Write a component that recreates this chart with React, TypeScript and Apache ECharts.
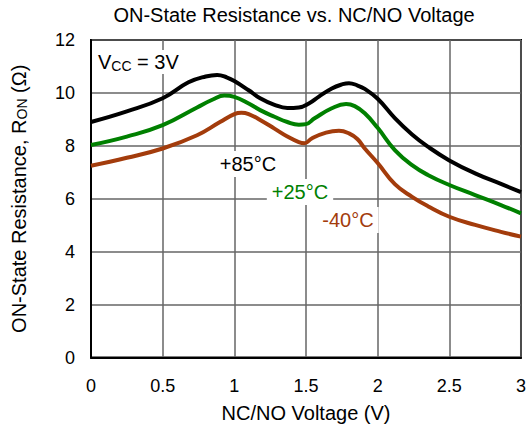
import React, { useEffect, useRef } from "react";
import * as echarts from "echarts";

const xTicks = [0, 0.5, 1, 1.5, 2, 2.5, 3];
const yTicks = [0, 2, 4, 6, 8, 10, 12];

const v85 = [0, 0.25, 0.5, 0.68, 0.8, 0.88, 0.95, 1.0, 1.1, 1.18, 1.28, 1.37, 1.45, 1.52, 1.59, 1.68, 1.75, 1.8, 1.86, 1.91, 2.0, 2.12, 2.24, 2.35, 2.5, 2.68, 2.86, 3.0];
const r85 = [8.9, 9.3, 9.8, 10.4, 10.62, 10.68, 10.58, 10.45, 10.1, 9.8, 9.55, 9.43, 9.45, 9.6, 9.86, 10.17, 10.32, 10.37, 10.28, 10.15, 9.78, 9.05, 8.43, 7.97, 7.45, 6.96, 6.56, 6.25];

const v25 = [0, 0.25, 0.5, 0.74, 0.85, 0.93, 1.0, 1.1, 1.18, 1.28, 1.37, 1.45, 1.5, 1.56, 1.68, 1.78, 1.84, 1.91, 2.0, 2.12, 2.24, 2.35, 2.5, 2.68, 2.86, 3.0];
const r25 = [8.03, 8.35, 8.78, 9.45, 9.75, 9.9, 9.85, 9.6, 9.35, 9.1, 8.9, 8.8, 8.82, 9.04, 9.42, 9.58, 9.5, 9.23, 8.68, 7.84, 7.27, 6.9, 6.52, 6.14, 5.76, 5.45];

const vm40 = [0, 0.25, 0.5, 0.74, 0.9, 1.0, 1.05, 1.1, 1.18, 1.28, 1.37, 1.45, 1.49, 1.54, 1.64, 1.73, 1.8, 1.86, 1.91, 2.0, 2.12, 2.24, 2.35, 2.5, 2.68, 2.86, 3.0];
const rm40 = [7.25, 7.55, 7.9, 8.4, 8.9, 9.2, 9.25, 9.2, 8.98, 8.65, 8.35, 8.14, 8.1, 8.28, 8.5, 8.57, 8.47, 8.25, 7.9, 7.35, 6.55, 6.07, 5.72, 5.32, 5.01, 4.75, 4.57];

const seriesNames = ["+85°C", "+25°C", "-40°C"];
const seriesColors = ["#000000", "#008000", "#a33c0c"];

const FONT = "Liberation Sans, Arial, sans-serif";

export default function App() {
  const ref = useRef<HTMLDivElement>(null);
  useEffect(() => {
    document.body.style.margin = "0";
    const chart = echarts.init(ref.current!, null, { renderer: "svg" });
    const pairs = (xs: number[], ys: number[]) => xs.map((x, i) => [x, ys[i]]);
    const datas = [pairs(v85, r85), pairs(v25, r25), pairs(vm40, rm40)];
    const labelPos = [
      [248, 164],
      [300, 192],
      [348, 220],
    ];
    chart.setOption({
      animation: false,
      textStyle: { fontFamily: FONT },
      title: {
        text: "ON-State Resistance vs. NC/NO Voltage",
        left: 289,
        textAlign: "center",
        top: 0,
        textStyle: { fontFamily: FONT, fontSize: 20, fontWeight: "normal", color: "#000" },
      },
      grid: {
        left: 91,
        right: 6,
        top: 40,
        bottom: 76.5,
        show: true,
        borderColor: "#000",
        borderWidth: 2,
        backgroundColor: "transparent",
      },
      xAxis: {
        type: "value",
        min: 0,
        max: 3,
        interval: 0.5,
        name: "NC/NO Voltage (V)",
        nameLocation: "middle",
        nameGap: 45,
        nameTextStyle: { fontFamily: FONT, fontSize: 20, color: "#000" },
        axisLine: { show: true, lineStyle: { color: "#000", width: 2 } },
        axisTick: { show: false },
        axisLabel: {
          fontFamily: FONT,
          fontSize: 18,
          color: "#000",
          margin: 19,
          formatter: (v: number) => (xTicks.includes(v) ? String(v) : ""),
        },
        splitLine: { show: true, lineStyle: { color: "#666", width: 1.5 } },
      },
      yAxis: {
        type: "value",
        min: 0,
        max: 12,
        interval: 2,
        name: "ON-State Resistance, R{sub|ON} (Ω)",
        nameLocation: "middle",
        nameGap: 62,
        nameRotate: 90,
        nameTextStyle: {
          fontFamily: FONT,
          fontSize: 20,
          color: "#000",
          rich: {
            sub: { fontFamily: FONT, fontSize: 14, color: "#000", verticalAlign: "bottom", padding: [7, 0, 0, 0] },
          },
        },
        axisLine: { show: true, lineStyle: { color: "#000", width: 2 } },
        axisTick: { show: false },
        axisLabel: {
          fontFamily: FONT,
          fontSize: 18,
          color: "#000",
          margin: 16,
          formatter: (v: number) => (yTicks.includes(v) ? String(v) : ""),
        },
        splitLine: { show: true, lineStyle: { color: "#666", width: 1.5 } },
      },
      graphic: [
        {
          type: "text",
          x: 96,
          y: 62,
          z: 10,
          style: {
            text: "V{sub|CC} = 3V",
            fontFamily: FONT,
            fontSize: 20,
            fill: "#000",
            verticalAlign: "middle",
            backgroundColor: "#fff",
            padding: [1, 2, 1, 2],
            rich: { sub: { fontFamily: FONT, fontSize: 14, fill: "#000", verticalAlign: "bottom", padding: [8, 0, 0, 0] } },
          },
        },
        ...seriesNames.map((n, i) => ({
          type: "text",
          x: labelPos[i][0],
          y: labelPos[i][1],
          z: 10,
          style: {
            text: n,
            fontFamily: FONT,
            fontSize: 20,
            fill: seriesColors[i],
            align: "center",
            verticalAlign: "middle",
            backgroundColor: "#fff",
            padding: [3, 5, 3, 5],
          },
        })),
      ],
      series: datas.map((d, i) => ({
        name: seriesNames[i],
        type: "line",
        data: d,
        smooth: 0.45,
        showSymbol: false,
        symbol: "none",
        z: 20,
        lineStyle: { color: seriesColors[i], width: 4 },
      })),
    });
    return () => chart.dispose();
  }, []);
  return <div ref={ref} style={{ width: 529, height: 434 }} />;
}
